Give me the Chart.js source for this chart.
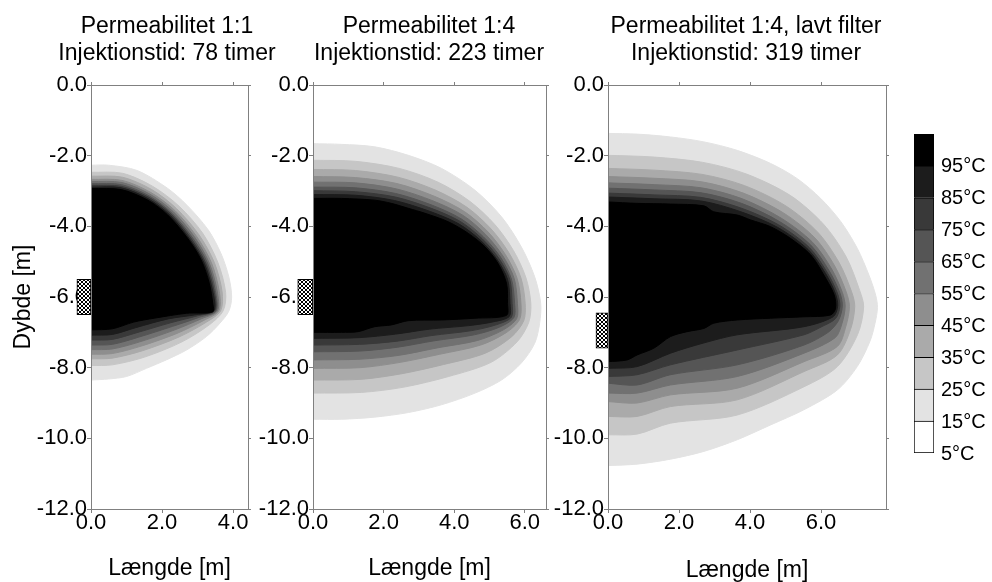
<!DOCTYPE html>
<html lang="da">
<head>
<meta charset="utf-8">
<title>Temperaturfordeling omkring injektionsfilter</title>
<script src="https://cdn.jsdelivr.net/npm/chart.js@4.4.1/dist/chart.umd.min.js"></script>
<style>
    html, body { margin: 0; padding: 0; background: #fff; }
    #wrap { position: relative; width: 992px; height: 582px; overflow: hidden; }
    #wrap canvas { position: absolute; left: 0; top: 0; }
</style>
</head>
<body>
<div id="wrap">
    <canvas id="p1" width="992" height="582"></canvas>
    <canvas id="p2" width="992" height="582"></canvas>
    <canvas id="p3" width="992" height="582"></canvas>
    <canvas id="scale" width="992" height="582"></canvas>
</div>
<script>
// Konturniveauer (°C) - hver kontur er grænsen for båndet ovenfor
const levels = [15, 25, 35, 45, 55, 65, 75, 85, 95];
const legendEdges = [5, 15, 25, 35, 45, 55, 65, 75, 85, 95, 105];
const yTicks = [0, -2, -4, -6, -8, -10, -12];
const p1XTicks = [0, 2, 4];
const p2XTicks = [0, 2, 4, 6];
const p3XTicks = [0, 2, 4, 6];

// filterstrækning [top, bund] i dybde (m)
const p1Filter = [-5.5, -6.5];
const p2Filter = [-5.5, -6.5];
const p3Filter = [-6.45, -7.45];

// Panel 1: Permeabilitet 1:1, 78 timer  ([længde, dybde])
const p1c15 = [[0,-2.27],[0.5,-2.27],[1.3,-2.42],[2.15,-2.92],[2.7,-3.4],[3.3,-4.1],[3.66,-4.77],[3.88,-5.43],[3.96,-6.0],[3.88,-6.4],[3.63,-6.74],[3.25,-7.12],[2.69,-7.5],[2.12,-7.78],[1.56,-8.02],[1.0,-8.25],[0.5,-8.32],[0,-8.35]];
const p1c25 = [[0,-2.47],[0.89,-2.5],[1.74,-2.87],[2.48,-3.43],[3.14,-4.19],[3.57,-5.02],[3.79,-5.87],[3.72,-6.39],[3.34,-6.78],[2.56,-7.27],[1.51,-7.7],[0.6,-7.92],[0,-7.94]];
const p1c35 = [[0,-2.58],[0.88,-2.61],[1.71,-2.96],[2.41,-3.5],[3.04,-4.24],[3.47,-5.02],[3.69,-5.85],[3.65,-6.39],[3.25,-6.71],[2.48,-7.13],[1.45,-7.52],[0.6,-7.73],[0,-7.75]];
const p1c45 = [[0,-2.67],[0.87,-2.7],[1.68,-3.04],[2.36,-3.55],[2.97,-4.28],[3.39,-5.03],[3.61,-5.84],[3.6,-6.39],[3.18,-6.66],[2.42,-7.03],[1.41,-7.39],[0.6,-7.6],[0,-7.62]];
const p1c55 = [[0,-2.73],[0.87,-2.76],[1.66,-3.09],[2.32,-3.59],[2.92,-4.31],[3.33,-5.04],[3.55,-5.83],[3.56,-6.39],[3.12,-6.61],[2.36,-6.93],[1.37,-7.27],[0.6,-7.47],[0,-7.49]];
const p1c65 = [[0,-2.79],[0.86,-2.82],[1.64,-3.14],[2.28,-3.63],[2.87,-4.34],[3.28,-5.04],[3.5,-5.82],[3.52,-6.39],[3.06,-6.57],[2.3,-6.83],[1.33,-7.14],[0.6,-7.34],[0,-7.36]];
const p1c75 = [[0,-2.84],[0.86,-2.87],[1.63,-3.18],[2.26,-3.66],[2.83,-4.36],[3.23,-5.04],[3.46,-5.81],[3.49,-6.38],[3.01,-6.53],[2.24,-6.73],[1.29,-7.01],[0.6,-7.2],[0,-7.22]];
const p1c85 = [[0,-2.89],[0.85,-2.91],[1.61,-3.22],[2.23,-3.69],[2.79,-4.38],[3.19,-5.05],[3.42,-5.81],[3.46,-6.38],[2.96,-6.5],[2.17,-6.62],[1.25,-6.87],[0.6,-7.06],[0,-7.08]];
const p1c95 = [[0,-2.93],[0.85,-2.96],[1.6,-3.26],[2.16,-3.68],[2.72,-4.34],[3.1,-4.95],[3.33,-5.61],[3.43,-6.2],[3.43,-6.42],[2.69,-6.46],[1.78,-6.6],[1.2,-6.71],[0.6,-6.9],[0,-6.93]];

// Panel 2: Permeabilitet 1:4, 223 timer
const p2c15 = [[0,-1.66],[0.81,-1.68],[1.75,-1.75],[2.7,-1.99],[3.64,-2.36],[4.59,-2.98],[5.34,-3.73],[5.9,-4.58],[6.28,-5.43],[6.45,-6.18],[6.42,-6.74],[6.28,-7.31],[5.9,-7.87],[5.34,-8.35],[4.59,-8.72],[3.64,-9.05],[2.7,-9.27],[1.75,-9.4],[0.81,-9.46],[0,-9.46]];
const p2c25 = [[0,-2.13],[1.2,-2.16],[2.44,-2.36],[3.54,-2.75],[4.44,-3.29],[5.15,-3.95],[5.68,-4.69],[6.03,-5.45],[6.17,-6.18],[6.11,-6.72],[5.78,-7.27],[5.04,-7.85],[3.84,-8.25],[2.58,-8.55],[1.37,-8.7],[0,-8.72]];
const p2c35 = [[0,-2.39],[1.2,-2.42],[2.41,-2.61],[3.48,-2.98],[4.36,-3.46],[5.04,-4.07],[5.55,-4.75],[5.89,-5.46],[6.01,-6.18],[5.97,-6.67],[5.62,-7.13],[4.88,-7.59],[3.7,-7.91],[2.52,-8.17],[1.36,-8.33],[0,-8.35]];
const p2c45 = [[0,-2.59],[1.2,-2.62],[2.38,-2.79],[3.44,-3.15],[4.3,-3.59],[4.96,-4.16],[5.45,-4.8],[5.78,-5.47],[5.89,-6.18],[5.85,-6.64],[5.47,-7.01],[4.75,-7.36],[3.59,-7.62],[2.47,-7.85],[1.34,-8.0],[0,-8.02]];
const p2c55 = [[0,-2.75],[1.2,-2.77],[2.36,-2.94],[3.4,-3.28],[4.25,-3.69],[4.89,-4.23],[5.38,-4.84],[5.7,-5.48],[5.79,-6.18],[5.77,-6.61],[5.39,-6.93],[4.66,-7.23],[3.52,-7.44],[2.44,-7.65],[1.34,-7.76],[0,-7.78]];
const p2c65 = [[0,-2.89],[1.2,-2.91],[2.34,-3.07],[3.37,-3.4],[4.2,-3.79],[4.83,-4.3],[5.31,-4.87],[5.62,-5.49],[5.71,-6.18],[5.69,-6.58],[5.29,-6.85],[4.57,-7.07],[3.43,-7.24],[2.4,-7.42],[1.33,-7.53],[0,-7.55]];
const p2c75 = [[0,-2.99],[1.2,-3.02],[2.33,-3.17],[3.35,-3.49],[4.17,-3.86],[4.79,-4.35],[5.26,-4.9],[5.57,-5.49],[5.64,-6.18],[5.62,-6.57],[5.21,-6.78],[4.5,-6.95],[3.37,-7.09],[2.38,-7.25],[1.32,-7.34],[0,-7.36]];
const p2c85 = [[0,-3.1],[1.2,-3.12],[2.31,-3.27],[3.32,-3.58],[4.13,-3.93],[4.75,-4.4],[5.2,-4.92],[5.51,-5.5],[5.58,-6.18],[5.56,-6.55],[5.12,-6.7],[4.41,-6.81],[3.3,-6.91],[2.34,-7.05],[1.31,-7.15],[0,-7.17]];
const p2c95 = [[0,-3.21],[0.81,-3.21],[1.75,-3.26],[2.22,-3.35],[2.7,-3.49],[3.17,-3.63],[3.83,-3.87],[4.4,-4.2],[4.87,-4.58],[5.24,-5.05],[5.48,-5.61],[5.51,-6.18],[5.48,-6.52],[4.59,-6.6],[3.64,-6.65],[2.7,-6.67],[2.22,-6.79],[1.75,-6.84],[1.28,-6.98],[0.81,-7.0],[0,-7.0]];

// Panel 3: Permeabilitet 1:4, lavt filter, 319 timer
const p3c15 = [[0,-1.37],[0.82,-1.39],[1.76,-1.47],[2.7,-1.61],[3.64,-1.85],[4.58,-2.22],[5.33,-2.65],[5.99,-3.21],[6.56,-3.87],[7.02,-4.62],[7.35,-5.38],[7.54,-5.95],[7.59,-6.3],[7.52,-6.75],[7.38,-7.25],[7.02,-7.97],[6.46,-8.63],[5.52,-9.19],[4.58,-9.62],[3.64,-10.04],[2.7,-10.37],[1.76,-10.59],[0.82,-10.73],[0,-10.77]];
const p3c25 = [[0,-1.99],[1.3,-2.04],[2.67,-2.19],[3.9,-2.52],[5.14,-3.13],[6.07,-3.94],[6.71,-4.87],[7.09,-5.82],[7.2,-6.28],[7.03,-7.06],[6.46,-7.97],[5.52,-8.54],[3.64,-9.34],[1.76,-9.57],[0.82,-9.88],[0,-9.9]];
const p3c35 = [[0,-2.36],[1.3,-2.41],[2.65,-2.53],[3.85,-2.85],[5.02,-3.43],[5.92,-4.18],[6.51,-5.03],[6.86,-5.85],[6.95,-6.27],[6.83,-6.92],[6.46,-7.64],[5.52,-8.11],[3.64,-8.91],[1.76,-9.1],[0.82,-9.38],[0,-9.38]];
const p3c45 = [[0,-2.59],[1.3,-2.64],[2.64,-2.74],[3.81,-3.06],[4.94,-3.62],[5.83,-4.33],[6.39,-5.13],[6.71,-5.86],[6.8,-6.27],[6.7,-6.83],[6.46,-7.4],[5.52,-7.83],[3.64,-8.58],[1.76,-8.77],[0.82,-9.0],[0,-8.96]];
const p3c55 = [[0,-2.77],[1.3,-2.82],[2.63,-2.91],[3.78,-3.22],[4.88,-3.77],[5.76,-4.45],[6.3,-5.21],[6.6,-5.87],[6.68,-6.26],[6.59,-6.75],[6.4,-7.15],[5.52,-7.59],[3.64,-8.25],[1.76,-8.49],[0.82,-8.72],[0,-8.72]];
const p3c65 = [[0,-2.92],[1.3,-2.97],[2.62,-3.05],[3.76,-3.35],[4.84,-3.87],[5.71,-4.53],[6.23,-5.26],[6.53,-5.88],[6.6,-6.26],[6.49,-6.67],[6.2,-7.0],[5.52,-7.36],[3.64,-7.92],[1.76,-8.2],[0.82,-8.49],[0,-8.44]];
const p3c75 = [[0,-3.06],[1.3,-3.11],[2.61,-3.18],[3.74,-3.48],[4.81,-3.96],[5.67,-4.6],[6.17,-5.3],[6.46,-5.89],[6.53,-6.26],[6.41,-6.61],[6.0,-6.85],[5.52,-7.07],[3.64,-7.5],[1.76,-7.92],[0.82,-8.2],[0,-8.25]];
const p3c85 = [[0,-3.17],[1.3,-3.22],[2.61,-3.28],[3.72,-3.58],[4.78,-4.03],[5.64,-4.66],[6.13,-5.34],[6.4,-5.89],[6.47,-6.25],[6.34,-6.56],[5.52,-6.84],[3.64,-7.07],[2.7,-7.3],[1.76,-7.59],[0.82,-7.97],[0,-8.02]];
const p3c95 = [[0,-3.31],[0.82,-3.35],[1.76,-3.37],[2.7,-3.42],[2.98,-3.59],[3.64,-3.68],[4.02,-3.82],[4.58,-4.01],[5.14,-4.34],[5.71,-4.81],[6.08,-5.38],[6.37,-5.94],[6.41,-6.32],[6.27,-6.51],[5.52,-6.56],[4.58,-6.6],[3.64,-6.65],[2.98,-6.74],[2.7,-6.89],[2.23,-6.98],[1.76,-7.12],[1.29,-7.45],[0.82,-7.64],[0.54,-7.78],[0,-7.83]];

const p1Contours = [p1c15, p1c25, p1c35, p1c45, p1c55, p1c65, p1c75, p1c85, p1c95];
const p2Contours = [p2c15, p2c25, p2c35, p2c45, p2c55, p2c65, p2c75, p2c85, p2c95];
const p3Contours = [p3c15, p3c25, p3c35, p3c45, p3c55, p3c65, p3c75, p3c85, p3c95];

// gråtoner: hvid (5-15) ... sort (95-105)
const legendColors = ['#ffffff', '#e3e3e3', '#c6c6c6', '#aaaaaa', '#8e8e8e', '#717171', '#555555', '#393939', '#1c1c1c', '#000000'];
const bandColors = legendColors.slice(1);

const FONT = "'Liberation Sans', Arial, Helvetica, sans-serif";
const GREY = '#808080';
Chart.defaults.font.family = FONT;
Chart.defaults.color = '#000';

// krydsskravering til filteret
function hatch(canvasId) {
    const tile = document.createElement('canvas');
    tile.width = 4;
    tile.height = 4;
    const g = tile.getContext('2d');
    g.fillStyle = '#fff';
    g.fillRect(0, 0, 4, 4);
    g.fillStyle = '#000';
    for (let i = 0; i < 4; i++) {
        g.fillRect(i, i, 1, 1);
        g.fillRect(3 - i, i, 1, 1);
    }
    return document.getElementById(canvasId).getContext('2d').createPattern(tile, 'repeat');
}

function makePanel(p) {
    const datasets = p.contours.map((pts, i) => ({
        type: 'scatter',
        label: levels[i] + '°C',
        data: pts,
        showLine: true,
        fill: 'shape',
        backgroundColor: bandColors[i],
        borderColor: bandColors[i],
        borderWidth: 1,
        pointRadius: 0,
        tension: 0.3,
        order: 20 - i
    }));

    // filter (skraveret rektangel til venstre for aksen)
    datasets.push({
        type: 'bar',
        label: 'Filter',
        data: [{ x: p.filterX, y: p.filter }],
        backgroundColor: hatch(p.id),
        borderColor: '#000',
        borderWidth: 1,
        borderSkipped: false,
        barThickness: p.filterWidth,
        clip: false,
        order: 0
    });

    const tickFont = { family: FONT, size: 22 };
    const titleFont = { family: FONT, size: 23 };

    return new Chart(document.getElementById(p.id), {
        type: 'scatter',
        data: { datasets },
        options: {
            responsive: false,
            animation: false,
            devicePixelRatio: 1,
            events: [],
            layout: { padding: { left: p.padLeft, right: p.padRight, top: 0, bottom: 0 } },
            plugins: {
                legend: { display: false },
                tooltip: { enabled: false },
                title: {
                    display: true,
                    text: p.title,
                    fullSize: true,
                    color: '#000',
                    font: { family: FONT, size: 23, weight: 'normal', lineHeight: '27px' },
                    padding: { top: 13, bottom: 15 }
                }
            },
            scales: {
                x: {
                    type: 'linear',
                    position: 'bottom',
                    offset: false,
                    min: 0,
                    max: p.xMax,
                    afterBuildTicks: s => { s.ticks = p.xTicks.map(v => ({ value: v })); },
                    afterFit: s => { s.height = 73; },
                    ticks: { callback: v => v.toFixed(1), font: tickFont, color: '#000', padding: -3, maxRotation: 0, autoSkip: false },
                    grid: { offset: false, drawOnChartArea: false, tickLength: 4, color: GREY },
                    border: { color: GREY, z: 1 },
                    title: { display: true, text: 'Længde [m]', font: titleFont, color: '#000', padding: { top: 0, bottom: p.xTitlePad } }
                },
                xTop: {
                    type: 'linear',
                    position: 'top',
                    offset: false,
                    min: 0,
                    max: p.xMax,
                    afterBuildTicks: s => { s.ticks = p.xTicks.map(v => ({ value: v })); },
                    afterFit: s => { s.height = 3; },
                    ticks: { display: false },
                    grid: { offset: false, drawOnChartArea: false, tickLength: 3, color: GREY },
                    border: { color: GREY, z: 1 }
                },
                y: {
                    type: 'linear',
                    position: 'left',
                    min: -12,
                    max: 0,
                    afterBuildTicks: s => { s.ticks = yTicks.map(v => ({ value: v })); },
                    afterFit: s => { s.width = p.yWidth; },
                    ticks: { callback: v => v.toFixed(1), font: tickFont, color: '#000', padding: 0, autoSkip: false },
                    grid: { drawOnChartArea: false, tickLength: 4, color: GREY },
                    border: { color: GREY, z: 1 },
                    title: { display: p.yTitle, text: 'Dybde [m]', font: titleFont, color: '#000', padding: { top: 10, bottom: 0 } }
                },
                yRight: {
                    type: 'linear',
                    position: 'right',
                    min: -12,
                    max: 0,
                    afterBuildTicks: s => { s.ticks = yTicks.map(v => ({ value: v })); },
                    afterFit: s => { s.width = p.yRightWidth; },
                    ticks: { display: false },
                    grid: { drawOnChartArea: false, tickLength: 3, color: GREY },
                    border: { color: GREY, z: 1 }
                }
            }
        }
    });
}

// Titlen centreres over [padLeft, 992 - padRight]; yRightWidth fylder op til plotkanten
makePanel({
    id: 'p1', title: ['Permeabilitet 1:1', 'Injektionstid: 78 timer'],
    contours: p1Contours, xMax: 4.42, xTicks: p1XTicks,
    filter: p1Filter, filterX: -0.2, filterWidth: 14,
    padLeft: 0, yWidth: 91, padRight: 658, yRightWidth: 86, yTitle: true, xTitlePad: 0
});
makePanel({
    id: 'p2', title: ['Permeabilitet 1:4', 'Injektionstid: 223 timer'],
    contours: p2Contours, xMax: 6.6, xTicks: p2XTicks,
    filter: p2Filter, filterX: -0.22, filterWidth: 15,
    padLeft: 253, yWidth: 60, padRight: 387, yRightWidth: 59, yTitle: false, xTitlePad: 0
});
makePanel({
    id: 'p3', title: ['Permeabilitet 1:4, lavt filter', 'Injektionstid: 319 timer'],
    contours: p3Contours, xMax: 7.83, xTicks: p3XTicks,
    filter: p3Filter, filterX: -0.17, filterWidth: 12,
    padLeft: 548, yWidth: 60, padRight: 48, yRightWidth: 58, yTitle: false, xTitlePad: -2
});

// Farveskala (temperaturbånd)
new Chart(document.getElementById('scale'), {
    type: 'bar',
    data: {
        labels: [''],
        datasets: legendColors.map((c, i) => ({
            label: legendEdges[i] + '-' + legendEdges[i + 1] + '°C',
            data: [[legendEdges[i], legendEdges[i + 1]]],
            backgroundColor: c,
            borderColor: '#000',
            borderWidth: { top: 1, left: 1, right: 1, bottom: i === 0 ? 1 : 0 },
            borderSkipped: false,
            categoryPercentage: 1,
            barPercentage: 1,
            grouped: false
        }))
    },
    options: {
        responsive: false,
        animation: false,
        devicePixelRatio: 1,
        events: [],
        layout: { padding: { left: 914, right: 0, top: 134, bottom: 129 } },
        plugins: { legend: { display: false }, tooltip: { enabled: false } },
        scales: {
            x: { display: false },
            y: {
                position: 'right',
                min: 5,
                max: 105,
                afterBuildTicks: s => { s.ticks = legendEdges.slice(0, 10).map(v => ({ value: v })); },
                afterFit: s => { s.width = 58; },
                ticks: { callback: v => v + '°C', font: { family: FONT, size: 20 }, color: '#000', padding: 7, labelOffset: 1 },
                grid: { display: false, drawTicks: false },
                border: { display: false }
            }
        }
    }
});
</script>
</body>
</html>
